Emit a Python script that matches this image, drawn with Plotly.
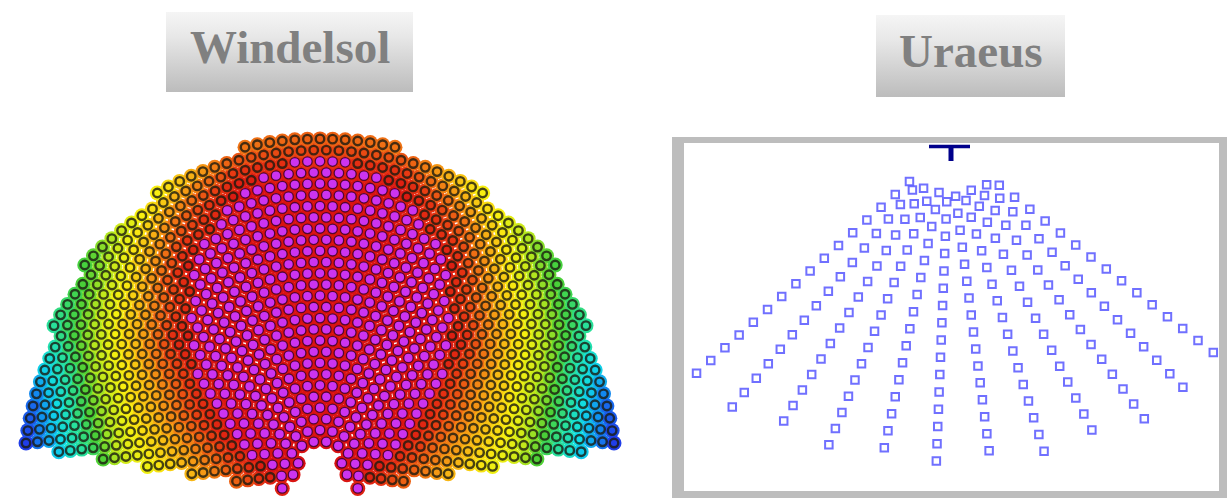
import numpy as np
import plotly.graph_objects as go

W, H = 1227, 498

# ---------------- titles ----------------
TITLES = ["Windelsol", "Uraeus"]
TITLE_BOXES = [(166, 12, 413, 92), (876, 15, 1065, 97)]
TITLE_CENTER_Y = [47, 51]

# ---------------- Windelsol field (left) ----------------
# field coordinates: tower at (0, 0), units ~ 1 px, y towards north (up)
W_ROW_FIRST_R = 27.5
W_ROW_STEP = 11.2
W_ROW_COUNT = 30
W_ARC_STEP = 12.6
W_OUTER_THETA = [0, 7, 15, 21, 27, 33, 38, 44, 49, 57, 65, 75, 84, 180]
W_OUTER_R = [347, 345, 343, 340, 335, 331, 328, 325, 321, 312, 308, 305, 303, 300]
W_BOTTOM_EDGE = [(30, -14), (302, 28)]          # |x|, y along the south edge
W_NOTCH = dict(top_y=23, bottom_y=-12, top_half=10, bottom_half=30)
W_CORE_THETA = [0, 10, 20, 30, 40, 50, 55, 60, 70, 80, 180]
W_CORE_R = [325, 315, 287, 250, 205, 158, 135, 112, 72, 45, 40]
# efficiency map (1 = red ... 0 = blue)
W_EFF_THETA = [0, 15, 30, 45, 60, 75, 90, 120]
W_EFF_R = [0, 50, 100, 150, 200, 250, 300, 350]
W_EFF = [
    [1.00, 1.00, 1.00, 1.00, 1.00, 1.00, 1.00, 0.84],
    [1.00, 1.00, 1.00, 1.00, 1.00, 1.00, 1.00, 0.80],
    [1.00, 1.00, 1.00, 1.00, 1.00, 1.00, 0.82, 0.56],
    [1.00, 1.00, 1.00, 1.00, 0.96, 0.77, 0.58, 0.44],
    [1.00, 1.00, 1.00, 0.90, 0.76, 0.62, 0.45, 0.30],
    [1.00, 1.00, 0.90, 0.78, 0.66, 0.46, 0.15, 0.05],
    [1.00, 0.95, 0.82, 0.68, 0.57, 0.30, 0.04, 0.02],
    [1.00, 0.95, 0.82, 0.68, 0.57, 0.30, 0.04, 0.02],
]
EFF_SCALE = [
    [0.00, "#1c1cb8"], [0.10, "#2234e8"], [0.22, "#1090f0"], [0.32, "#10dce8"],
    [0.43, "#28e098"], [0.51, "#48d038"], [0.59, "#bce81c"], [0.67, "#f8f010"],
    [0.76, "#f8b414"], [0.84, "#f07414"], [0.92, "#e63412"], [1.00, "#d81212"],
]
CORE_COLOR = "#cc34f0"
RING_COLOR = "rgba(26,26,16,0.80)"

# ---------------- Uraeus field (right) ----------------
# spokes from the tower: angle from south (deg, + to the right), outer radius, step, count
U_SPOKE_ANGLE = [-48.0, -39.7, -31.0, -21.9, -12.1, -2.3, 7.5, 17.3, 26.7, 35.6, 44.1, 52.0]
U_SPOKE_TIP_R = [339.7, 339.3, 320.9, 322.1, 308.6, 315.3, 307.3, 319.7, 318.0, 335.5, 336.1, 335.4]
U_SPOKE_STEP = [19.1, 18.8, 18.1, 17.5, 17.4, 17.3, 17.1, 17.5, 17.9, 18.3, 18.8, 19.4]
U_SPOKE_COUNT = [16, 16, 16, 16, 16, 16, 16, 16, 16, 16, 16, 15]
U_TOWER = (0.0, 0.0)
U_COLOR = "rgba(92,92,255,0.88)"


def eff_lookup(th, r):
    rows = np.array([np.interp(r, W_EFF_R, row) for row in W_EFF])
    return float(np.interp(th, W_EFF_THETA, rows))


# ---- build Windelsol heliostat positions
hx, hy, hval, hcore = [], [], [], []
for i in range(W_ROW_COUNT):
    r = W_ROW_FIRST_R + i * W_ROW_STEP
    dth = W_ARC_STEP / r
    off = 0.5 * dth if i % 2 else 0.0
    n = int(np.pi / dth) + 1
    for j in range(-n, n + 1):
        th = off + j * dth
        if abs(th) > np.pi:
            continue
        thd = abs(np.degrees(th))
        x = r * np.sin(th)
        y = r * np.cos(th)
        if r > np.interp(thd, W_OUTER_THETA, W_OUTER_R) - 2.0:
            continue
        (bx0, by0), (bx1, by1) = W_BOTTOM_EDGE
        yline = by0 + (abs(x) - bx0) * (by1 - by0) / (bx1 - bx0)
        if y < yline + 4.0:
            continue
        nt = W_NOTCH
        if y < nt["top_y"] + 5.5:
            hw = nt["top_half"] + (nt["top_y"] - y) * (nt["bottom_half"] - nt["top_half"]) / (nt["top_y"] - nt["bottom_y"])
            if abs(x) < hw + 5.5:
                continue
        hx.append(x)
        hy.append(y)
        hval.append(eff_lookup(thd, r))
        hcore.append(r < np.interp(thd, W_CORE_THETA, W_CORE_R))

hx = np.array(hx); hy = np.array(hy); hval = np.array(hval); hcore = np.array(hcore)

# ---- Uraeus positions
ux, uy = [], []
for a, tip, st, cnt in zip(U_SPOKE_ANGLE, U_SPOKE_TIP_R, U_SPOKE_STEP, U_SPOKE_COUNT):
    for k in range(cnt):
        r = tip - k * st
        ux.append(U_TOWER[0] + r * np.sin(np.radians(a)))
        uy.append(U_TOWER[1] - r * np.cos(np.radians(a)))

fig = go.Figure()

# title boxes (overlay axes in page pixels)
for (x0, y0, x1, y1) in TITLE_BOXES:
    fig.add_trace(go.Scatter(
        x=[x0, x1, x1, x0, x0], y=[y0, y0, y1, y1, y0], mode="lines",
        line=dict(width=0), fill="toself",
        fillgradient=dict(type="vertical",
                          colorscale=[[0, "#f5f5f5"], [0.3, "#e8e8e8"], [1, "#bcbcbc"]],
                          start=y0, stop=y1),
        xaxis="x3", yaxis="y3", hoverinfo="skip", showlegend=False))

# Windelsol background colour
fig.add_trace(go.Scatter(
    x=hx, y=hy, mode="markers", xaxis="x", yaxis="y", hoverinfo="skip", showlegend=False,
    marker=dict(size=15, color=hval, colorscale=EFF_SCALE, cmin=0, cmax=1, line=dict(width=0))))
# rings
m = ~hcore
fig.add_trace(go.Scatter(
    x=hx[m], y=hy[m], mode="markers", xaxis="x", yaxis="y", hoverinfo="skip", showlegend=False,
    marker=dict(symbol="circle-open", size=8.5, color=RING_COLOR, line=dict(width=2.4))))
# core heliostats
fig.add_trace(go.Scatter(
    x=hx[hcore], y=hy[hcore], mode="markers", xaxis="x", yaxis="y", hoverinfo="skip", showlegend=False,
    marker=dict(symbol="circle", size=9.5, color=CORE_COLOR,
                line=dict(width=1.3, color="rgba(60,0,40,0.85)"))))

# Uraeus heliostats
fig.add_trace(go.Scatter(
    x=ux, y=uy, mode="markers", xaxis="x2", yaxis="y2", hoverinfo="skip", showlegend=False,
    marker=dict(symbol="square-open", size=7.5, color=U_COLOR, line=dict(width=2))))
# tower glyph
tx, ty = U_TOWER
fig.add_trace(go.Scatter(x=[tx - 20, tx + 21], y=[ty - 0.5, ty - 0.5], mode="lines",
                         line=dict(color="#00008b", width=3.5), xaxis="x2", yaxis="y2",
                         hoverinfo="skip", showlegend=False))
fig.add_trace(go.Scatter(x=[tx + 2, tx + 2], y=[ty - 1, ty - 15], mode="lines",
                         line=dict(color="#00008b", width=5), xaxis="x2", yaxis="y2",
                         hoverinfo="skip", showlegend=False))

# frame around Uraeus plot
FRAME = "#bdbdbd"
shapes = []
for (x0, y0, x1, y1) in [(672, 137, 684, 498), (672, 137, 1227, 143),
                         (1219, 137, 1227, 498), (672, 491, 1227, 498)]:
    shapes.append(dict(type="rect", xref="x3", yref="y3", x0=x0, y0=y0, x1=x1, y1=y1,
                       fillcolor=FRAME, line=dict(width=0), layer="above"))

annotations = []
for t, (x0, y0, x1, y1), cy in zip(TITLES, TITLE_BOXES, TITLE_CENTER_Y):
    annotations.append(dict(text="<b>%s</b>" % t, x=(x0 + x1) / 2, y=cy, xref="x3", yref="y3",
                            showarrow=False, xanchor="center", yanchor="middle",
                            font=dict(family="Liberation Serif", size=47, color="#808080")))

ax = dict(visible=False, showgrid=False, zeroline=False, fixedrange=True)
top = 398 / 498
fig.update_layout(
    width=W, height=H, margin=dict(l=0, r=0, t=0, b=0, pad=0),
    paper_bgcolor="white", plot_bgcolor="rgba(0,0,0,0)",
    xaxis=dict(ax, domain=[0, 640 / W], range=[-320, 320]),
    yaxis=dict(ax, domain=[0, top], range=[-18, 380]),
    xaxis2=dict(ax, domain=[672 / W, 1], range=[-277, 278]),
    yaxis2=dict(ax, domain=[0, top], range=[-352, 46]),
    xaxis3=dict(ax, domain=[0, 1], range=[0, W]),
    yaxis3=dict(ax, domain=[0, 1], range=[H, 0]),
    shapes=shapes, annotations=annotations, showlegend=False,
)
fig.write_html("out.html", config={"displayModeBar": False},
               post_script="document.body.style.margin='0px';document.body.style.overflow='hidden';")
